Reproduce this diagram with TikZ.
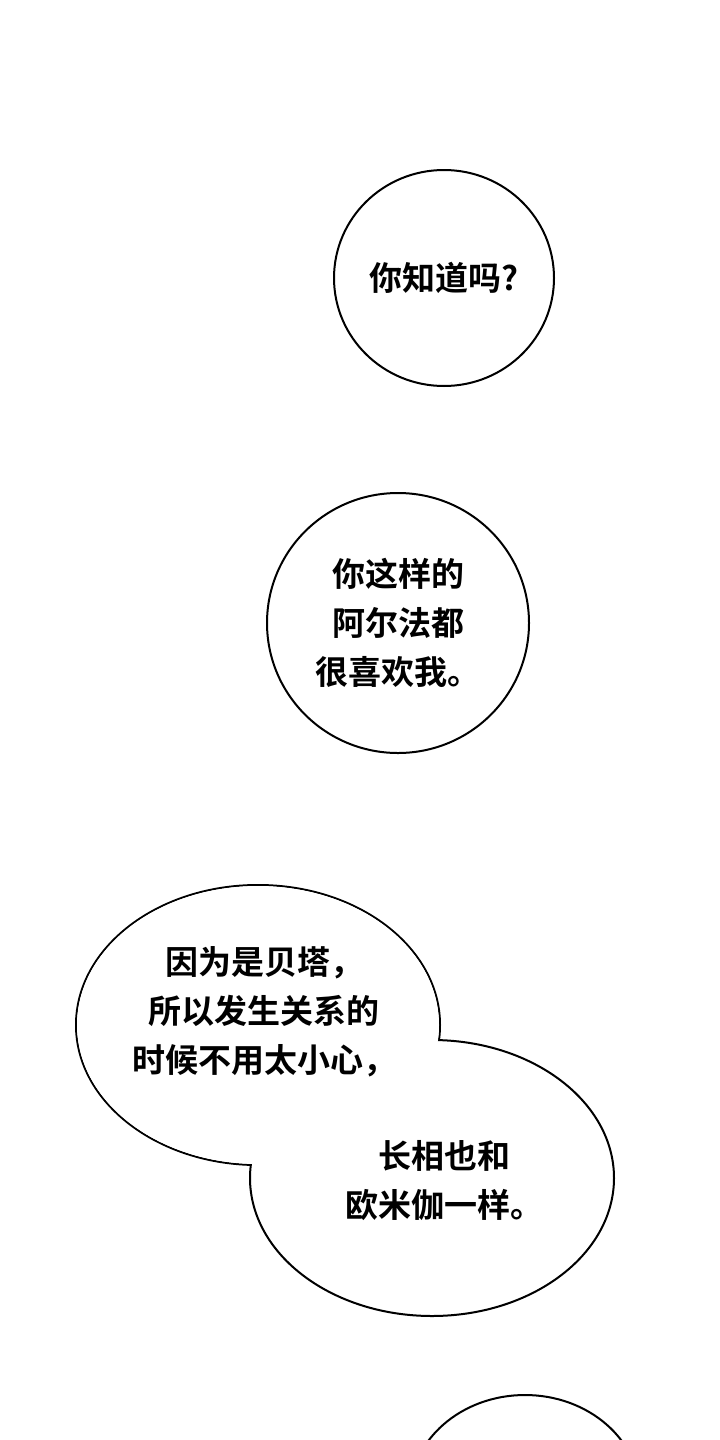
\documentclass[tikz,border=0pt]{standalone}
\usepackage{fontspec}
\newfontfamily\cjk{Noto Sans CJK SC Bold}
\usetikzlibrary{shapes.geometric}
\tikzset{
  bubble/.style={ellipse, draw=black, line width=2pt, fill=white, inner sep=0pt},
  talk/.style={font=\cjk\fontsize{33pt}{49pt}\selectfont, align=center, inner sep=0pt}
}
\begin{document}
\begin{tikzpicture}[x=1pt,y=-1pt]
        \useasboundingbox (0,0) rectangle (720,1440);
        \fill[white] (0,0) rectangle (720,1440);
        % first bubble
        \node[bubble, minimum width=220pt, minimum height=216pt] (b1) at (444,278) {};
        \node[talk] (t1) at (b1) {你知道吗?};
        % second bubble
        \node[bubble, minimum width=262pt, minimum height=260pt] (b2) at (398,623) {};
        \node[talk] (t2) at (b2) {你这样的\\阿尔法都\\很喜欢我。};
        % double bubble
        \node[bubble, minimum width=364pt, minimum height=280pt] (b3) at (258,1025) {};
        \node[bubble, minimum width=364pt, minimum height=276pt] (b4) at (432,1178) {};
        \fill[white] (258,1025) ellipse [x radius=181pt, y radius=139pt];
        \node[talk] (t3) at (264,1012) {因为是贝塔，\\所以发生关系的\\时候不用太小心，};
        \node[talk] (t4) at (444,1181) {长相也和\\欧米伽一样。};
        % bottom bubble
        \node[bubble, minimum width=230pt, minimum height=200pt] (b5) at (525,1495) {};
\end{tikzpicture}
\end{document}
